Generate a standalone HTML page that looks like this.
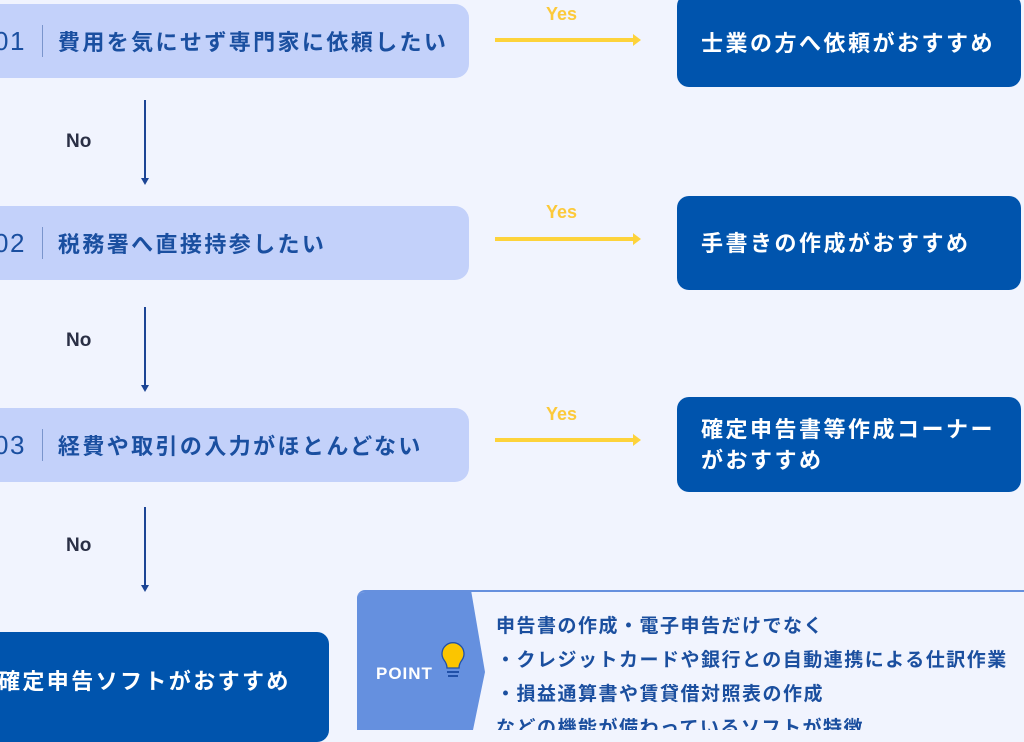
<!DOCTYPE html>
<html><head><meta charset="utf-8"><style>
*{margin:0;padding:0;box-sizing:border-box}
body{width:1024px;height:722px;overflow:hidden;background:#f1f4fe;position:relative;font-family:"Liberation Sans","Noto Sans CJK JP",sans-serif;font-weight:bold}
.q{position:absolute;left:-20px;width:489px;height:74px;background:#c3d1fa;border-radius:14px;color:#1a4fa0;font-size:22px;display:flex;align-items:center;padding-left:14px;letter-spacing:2.4px}
.q .n{font-size:26px;padding-right:16px;border-right:1.5px solid #7a95cc;margin-right:15px;line-height:32px;font-weight:500;letter-spacing:1.5px}
.r{position:absolute;left:677px;width:344px;background:#0054ad;border-radius:12px;color:#fff;font-size:22px;display:flex;align-items:center;padding-left:24px;letter-spacing:2.5px;line-height:31px}
.y{position:absolute;left:495px;width:140px;height:4px;background:#fdd33b}
.y:after{content:"";position:absolute;right:-6px;top:-4px;border-left:8px solid #fdd33b;border-top:6px solid transparent;border-bottom:6px solid transparent}
.yl{position:absolute;left:546px;color:#fcc93a;font-size:18px}
.d{position:absolute;left:144px;width:2px;background:#1c4595}
.d:after{content:"";position:absolute;left:-3px;bottom:-3px;border-top:7px solid #1c4595;border-left:4px solid transparent;border-right:4px solid transparent}
.no{position:absolute;left:66px;color:#2a2f45;font-size:19px}
</style></head><body>
<div class="q" style="top:4px"><span class="n">01</span>費用を気にせず専門家に依頼したい</div>
<div class="q" style="top:206px"><span class="n">02</span>税務署へ直接持参したい</div>
<div class="q" style="top:408px"><span class="n">03</span>経費や取引の入力がほとんどない</div>

<div class="r" style="top:-6px;height:93px;padding-top:6px">士業の方へ依頼がおすすめ</div>
<div class="r" style="top:196px;height:94px">手書きの作成がおすすめ</div>
<div class="r" style="top:397px;height:95px">確定申告書等作成コーナー<br>がおすすめ</div>

<div class="yl" style="top:4px">Yes</div><div class="y" style="top:38px"></div>
<div class="yl" style="top:202px">Yes</div><div class="y" style="top:237px"></div>
<div class="yl" style="top:404px">Yes</div><div class="y" style="top:438px"></div>

<div class="d" style="top:100px;height:82px"></div><div class="no" style="top:131px">No</div>
<div class="d" style="top:307px;height:82px"></div><div class="no" style="top:330px">No</div>
<div class="d" style="top:507px;height:82px"></div><div class="no" style="top:535px">No</div>

<div style="position:absolute;left:-20px;top:632px;width:349px;height:110px;background:#0054ad;border-radius:12px;color:#fff;font-size:22px;padding:32px 0 0 18px;letter-spacing:2.4px">確定申告ソフトがおすすめ</div>

<div style="position:absolute;left:357px;top:590px;width:680px;height:140px;border-top:2px solid #6690de;border-radius:8px 0 0 0;overflow:hidden">
<svg width="140" height="140" style="position:absolute;left:0;top:-2px"><polygon points="0,0 114,0 128,82 116,140 0,140" fill="#6590df"/>
<path d="M87 70 a11 11 0 1 1 18 0 q-3 4 -3 8 h-12 q0 -4 -3 -8z" fill="#fbc500" stroke="#2050a8" stroke-width="1.3"/>
<rect x="90" y="81" width="12" height="2" fill="#2050a8"/><rect x="91" y="85" width="10" height="2" fill="#2050a8"/></svg>
<div style="position:absolute;left:19px;top:72px;color:#fff;font-size:17px;letter-spacing:1px">POINT</div>
<div style="position:absolute;left:139px;top:18px;color:#1b4f9f;font-size:19px;line-height:34px;letter-spacing:1.5px;white-space:nowrap">申告書の作成・電子申告だけでなく<br>・クレジットカードや銀行との自動連携による仕訳作業<br>・損益通算書や賃貸借対照表の作成<br>などの機能が備わっているソフトが特徴</div>
</div>
</body></html>
